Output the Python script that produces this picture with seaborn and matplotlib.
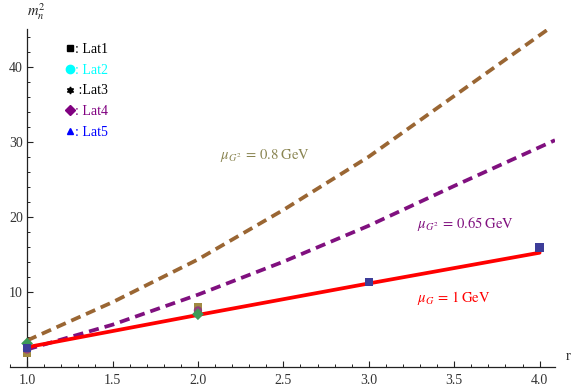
import numpy as np
import pandas as pd
import matplotlib
matplotlib.use("Agg")
import matplotlib.pyplot as plt
from matplotlib.lines import Line2D
import seaborn as sns

# model curves
r_red = [1.0, 2.0, 3.0, 4.0]
m2_red = [2.6, 6.9, 11.1, 15.2]

r_purple = [1.0, 1.5, 2.0, 2.5, 3.0, 3.5, 4.09]
m2_purple = [2.3, 5.6, 9.6, 14.0, 18.8, 24.1, 30.2]

r_brown = [1.0, 1.5, 2.0, 2.5, 3.0, 3.5, 4.05]
m2_brown = [3.5, 8.6, 14.3, 20.9, 28.0, 36.1, 45.0]

# lattice points
lat1_r, lat1_m2 = [1, 3, 4], [2.5, 11.3, 15.9]
lat2_r, lat2_m2 = [1, 2], [2.3, 7.5]
lat3_r, lat3_m2 = [1, 2], [1.9, 7.9]
lat4_r, lat4_m2 = [1, 2], [3.1, 7.0]
lat5_r, lat5_m2 = [1], [2.7]

legend_labels = [": Lat1", ": Lat2", " :Lat3", ": Lat4", ": Lat5"]
legend_colors = ["black", "cyan", "black", "purple", "blue"]
legend_markers = ["s", "o", (6, 1, 0), "D", "^"]

sns.set_theme(style="white")
plt.rcParams["font.family"] = ["Liberation Serif", "DejaVu Serif"]
plt.rcParams["mathtext.fontset"] = "stix"

W, H = 572, 392
fig = plt.figure(figsize=(W / 100, H / 100), dpi=100)
ax = fig.add_axes([10 / W, (H - 366.7) / H, 545 / W, 337.5 / H])

sns.lineplot(x=r_brown, y=m2_brown, ax=ax, color="#9a6633", linewidth=2.7)
sns.lineplot(x=r_purple, y=m2_purple, ax=ax, color="#80107f", linewidth=2.7)
for ln in ax.lines:
    ln.set_dashes((2.7, 1.6))
sns.lineplot(x=r_red, y=m2_red, ax=ax, color="#ff0000", linewidth=2.7)

pts = [
    (lat3_r, lat3_m2, "#a08a42", "s"),
    (lat2_r, lat2_m2, "#90407a", "o"),
    (lat5_r, lat5_m2, "#3d3d99", "^"),
    (lat4_r, lat4_m2, "#3d9958", "D"),
    (lat1_r, lat1_m2, "#3d3d99", "s"),
]
for xs, ys, c, mk in pts:
    sns.scatterplot(x=xs, y=ys, ax=ax, color=c, marker=mk, s=36,
                    edgecolor="none", zorder=5)

ax.set_xlim(0.9, 4.09)
ax.set_ylim(0, 45)
ax.set_xticks(np.arange(1.0, 4.01, 0.5))
ax.set_xticks(np.arange(0.9, 4.09, 0.1), minor=True)
ax.set_yticks([10, 20, 30, 40])
ax.set_yticks(np.arange(2, 45, 2), minor=True)
ax.xaxis.set_major_formatter(matplotlib.ticker.FormatStrFormatter("%.1f"))

for s in ["top", "right"]:
    ax.spines[s].set_visible(False)
ax.spines["left"].set_position(("data", 1.0))
for s in ["left", "bottom"]:
    ax.spines[s].set_color("#222222")
    ax.spines[s].set_linewidth(0.9)

ax.tick_params(which="both", direction="in", colors="#222222",
               labelcolor="#333333", labelsize=10)
ax.tick_params(which="major", length=4.5, width=0.8)
ax.tick_params(which="minor", length=2.5, width=0.7)
ax.tick_params(axis="y", which="both", left=True, pad=3)
ax.tick_params(axis="x", which="both", bottom=True, pad=5)

# curve annotations
ax.text(2.13, 28.1, r"$\mu_{G^2}\,=\,0.8\;\mathrm{GeV}$", color="#8a8552",
        fontsize=10.5, ha="left", va="center")
ax.text(3.28, 19.0, r"$\mu_{G^2}\,=\,0.65\;\mathrm{GeV}$", color="#80107f",
        fontsize=10.5, ha="left", va="center")
ax.text(3.28, 9.2, r"$\mu_{G}\,=\,1\;\mathrm{GeV}$", color="#ff0000",
        fontsize=10.5, ha="left", va="center")

# axis labels
fig.text(27 / W, 1 - 12 / H, r"$m_n^2$", fontsize=10.5, color="#222222",
         ha="left", va="center")
fig.text(566 / W, 1 - 356 / H, "r", fontsize=10.5, color="#222222",
         ha="left", va="center")

handles = [Line2D([], [], linestyle="none", marker=m, color=c,
                  markersize=5 if m != "o" else 6)
           for m, c in zip(legend_markers, legend_colors)]
leg = ax.legend(handles, legend_labels, loc="upper left",
                bbox_to_anchor=(50 / 545, 1 - 7 / 337.5), frameon=False,
                handlelength=0.5, handletextpad=0.05, labelspacing=0.55,
                fontsize=10, borderpad=0)
for t, c in zip(leg.get_texts(), legend_colors):
    t.set_color(c)

fig.savefig("out.png", dpi=100)
